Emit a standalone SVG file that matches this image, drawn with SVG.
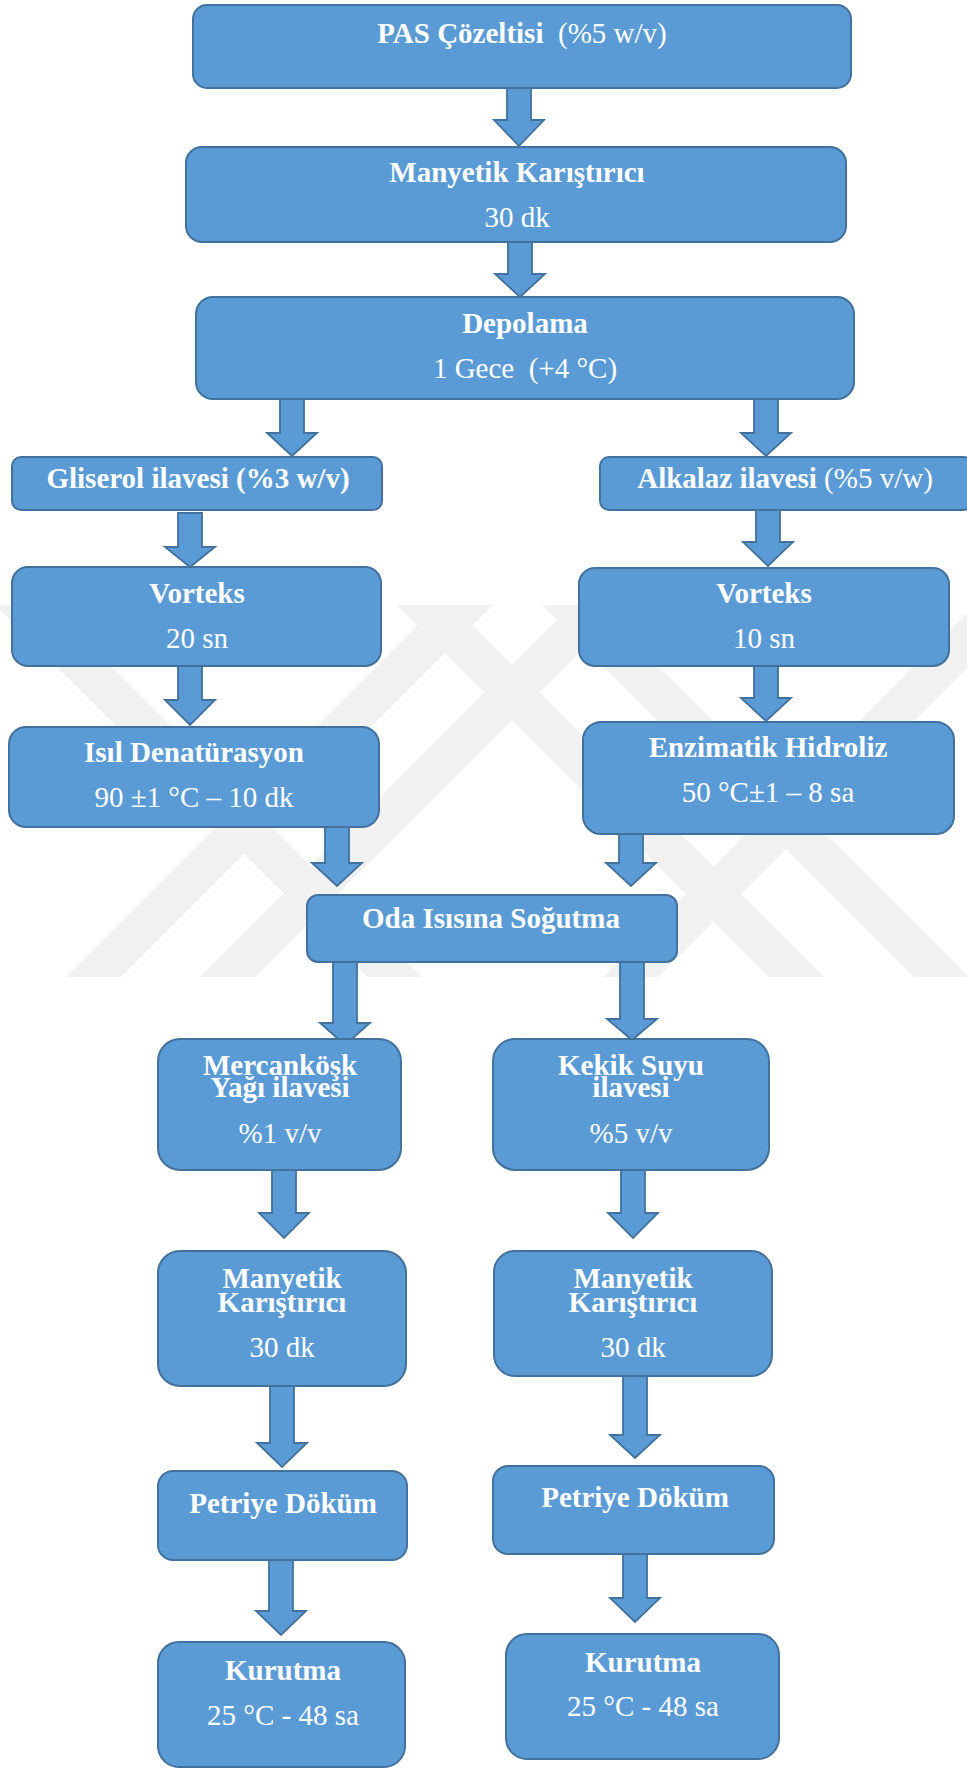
<svg xmlns="http://www.w3.org/2000/svg" width="967" height="1769" viewBox="0 0 967 1769">
<style>
.box{fill:#5b9bd5;stroke:#41719c;stroke-width:2}
.arr{fill:#5b9bd5;stroke:#41719c;stroke-width:1.8;stroke-linejoin:miter}
.wm{fill:#f1f1f1}
text{font-family:"Liberation Serif","Times New Roman",serif;font-size:29px;fill:#ffffff;text-anchor:middle}
.b{font-weight:bold}
.r{font-weight:normal}
</style>
<rect x="0" y="0" width="967" height="1769" fill="#ffffff"/>
<g id="watermark">
<polygon class="wm" points="66,977 121,977 493,605 438,605"/>
<polygon class="wm" points="200,977 255,977 627,605 572,605"/>
<polygon class="wm" points="603,977 658,977 1030,605 975,605"/>
<polygon class="wm" points="-5,605 50,605 422,977 367,977"/>
<polygon class="wm" points="397,605 452,605 824,977 769,977"/>
<polygon class="wm" points="542,605 597,605 969,977 914,977"/>
</g>
<g id="connectors">
<path class="arr" d="M507,88 H531 V120 H544 L519,146 L494,120 H507 Z"/>
<path class="arr" d="M508,242 H532 V274 H545 L520,297 L495,274 H508 Z"/>
<path class="arr" d="M280,399 H304 V433 H317 L292,456 L267,433 H280 Z"/>
<path class="arr" d="M754,399 H778 V433 H791 L766,456 L741,433 H754 Z"/>
<path class="arr" d="M178,513 H202 V547 H215 L190,567 L165,547 H178 Z"/>
<path class="arr" d="M756,510 H780 V542 H793 L768,566 L743,542 H756 Z"/>
<path class="arr" d="M178,666 H202 V700 H215 L190,725 L165,700 H178 Z"/>
<path class="arr" d="M754,666 H778 V698 H791 L766,721 L741,698 H754 Z"/>
<path class="arr" d="M325,827 H349 V863 H362 L337,886 L312,863 H325 Z"/>
<path class="arr" d="M619,834 H643 V863 H656 L631,886 L606,863 H619 Z"/>
<path class="arr" d="M333,962 H357 V1023 H370 L345,1045 L320,1023 H333 Z"/>
<path class="arr" d="M620,962 H644 V1019 H657 L632,1040 L607,1019 H620 Z"/>
<path class="arr" d="M272,1170 H296 V1213 H309 L284,1238 L259,1213 H272 Z"/>
<path class="arr" d="M621,1170 H645 V1213 H658 L633,1238 L608,1213 H621 Z"/>
<path class="arr" d="M270,1386 H294 V1443 H307 L282,1467 L257,1443 H270 Z"/>
<path class="arr" d="M623,1376 H647 V1435 H660 L635,1458 L610,1435 H623 Z"/>
<path class="arr" d="M269,1560 H293 V1611 H306 L281,1635 L256,1611 H269 Z"/>
<path class="arr" d="M623,1554 H647 V1598 H660 L635,1622 L610,1598 H623 Z"/>
</g>
<g id="n-pas">
<rect class="box" x="193" y="5" width="658" height="83" rx="14"/>
<text x="522" y="43"><tspan class="b">PAS Çözeltisi</tspan><tspan class="r" xml:space="preserve">  (%5 w/v)</tspan></text>
</g>
<g id="n-manyetik1">
<rect class="box" x="186" y="147" width="660" height="95" rx="16"/>
<text class="b" x="517" y="182">Manyetik Karıştırıcı</text>
<text class="r" x="517" y="227">30 dk</text>
</g>
<g id="n-depolama">
<rect class="box" x="196" y="297" width="658" height="102" rx="17"/>
<text class="b" x="525" y="333">Depolama</text>
<text class="r" x="525" y="378" xml:space="preserve">1 Gece  (+4 °C)</text>
</g>
<g id="n-gliserol">
<rect class="box" x="12" y="457" width="370" height="53" rx="9"/>
<text class="b" x="198" y="488">Gliserol ilavesi (%3 w/v)</text>
</g>
<g id="n-alkalaz">
<rect class="box" x="600" y="457" width="372" height="53" rx="9"/>
<text x="785" y="488"><tspan class="b">Alkalaz ilavesi</tspan><tspan class="r"> (%5 v/w)</tspan></text>
</g>
<g id="n-vorteks1">
<rect class="box" x="12" y="567" width="369" height="99" rx="16"/>
<text class="b" x="197" y="603">Vorteks</text>
<text class="r" x="197" y="648">20 sn</text>
</g>
<g id="n-vorteks2">
<rect class="box" x="579" y="568" width="370" height="98" rx="16"/>
<text class="b" x="764" y="603">Vorteks</text>
<text class="r" x="764" y="648">10 sn</text>
</g>
<g id="n-isil">
<rect class="box" x="9" y="727" width="370" height="100" rx="17"/>
<text class="b" x="194" y="762">Isıl Denatürasyon</text>
<text class="r" x="194" y="807">90 ±1 °C – 10 dk</text>
</g>
<g id="n-enzimatik">
<rect class="box" x="583" y="722" width="371" height="112" rx="18"/>
<text class="b" x="768" y="757">Enzimatik Hidroliz</text>
<text class="r" x="768" y="802">50 °C±1 – 8 sa</text>
</g>
<g id="n-oda">
<rect class="box" x="307" y="895" width="370" height="67" rx="11"/>
<text class="b" x="491" y="928">Oda Isısına Soğutma</text>
</g>
<g id="n-mercankosk">
<rect class="box" x="158" y="1039" width="243" height="131" rx="22"/>
<text class="b" x="280" y="1075">Mercanköşk</text>
<text class="b" x="280" y="1097">Yağı ilavesi</text>
<text class="r" x="280" y="1143">%1 v/v</text>
</g>
<g id="n-kekik">
<rect class="box" x="493" y="1039" width="276" height="131" rx="22"/>
<text class="b" x="631" y="1075">Kekik Suyu</text>
<text class="b" x="631" y="1097">ilavesi</text>
<text class="r" x="631" y="1143">%5 v/v</text>
</g>
<g id="n-manyetik2">
<rect class="box" x="158" y="1251" width="248" height="135" rx="22"/>
<text class="b" x="282" y="1288">Manyetik</text>
<text class="b" x="282" y="1312">Karıştırıcı</text>
<text class="r" x="282" y="1357">30 dk</text>
</g>
<g id="n-manyetik3">
<rect class="box" x="494" y="1251" width="278" height="125" rx="21"/>
<text class="b" x="633" y="1288">Manyetik</text>
<text class="b" x="633" y="1312">Karıştırıcı</text>
<text class="r" x="633" y="1357">30 dk</text>
</g>
<g id="n-petriye1">
<rect class="box" x="158" y="1471" width="249" height="89" rx="15"/>
<text class="b" x="283" y="1513">Petriye Döküm</text>
</g>
<g id="n-petriye2">
<rect class="box" x="493" y="1466" width="281" height="88" rx="15"/>
<text class="b" x="635" y="1507">Petriye Döküm</text>
</g>
<g id="n-kurutma1">
<rect class="box" x="158" y="1642" width="247" height="125" rx="21"/>
<text class="b" x="283" y="1680">Kurutma</text>
<text class="r" x="283" y="1725">25 °C - 48 sa</text>
</g>
<g id="n-kurutma2">
<rect class="box" x="506" y="1634" width="273" height="125" rx="21"/>
<text class="b" x="643" y="1672">Kurutma</text>
<text class="r" x="643" y="1716">25 °C - 48 sa</text>
</g>
</svg>
